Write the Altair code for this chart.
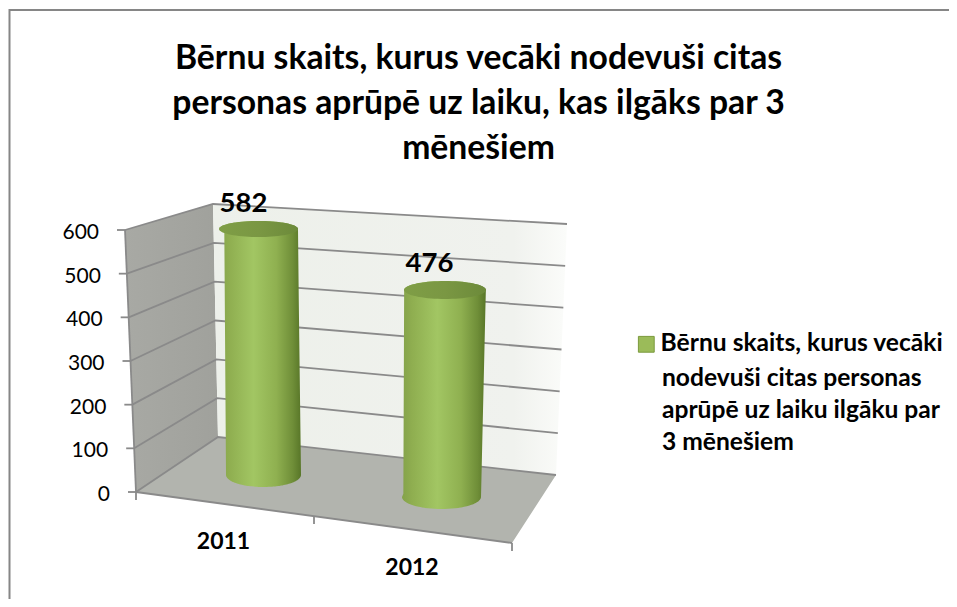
import numpy as np
import pandas as pd
import altair as alt

# ---- chart values
categories = ["2011", "2012"]
values = [582, 476]
tick_values = [0, 100, 200, 300, 400, 500, 600]
title_lines = ["Bērnu skaits, kurus vecāki nodevuši citas",
               "personas aprūpē uz laiku, kas ilgāks par 3",
               "mēnešiem"]
series_lines = ["Bērnu skaits, kurus vecāki", "nodevuši citas personas",
                "aprūpē uz laiku ilgāku par", "3 mēnešiem"]

FONT = "Lato"

# ---- projection of the 3D box (value -> picture position)
def wall_left(v):
    t = v / 600
    return 136 - 11 * t, 492 - 262 * t

def corner(v):
    t = v / 600
    return 218 - 5 * t, 437 - 233 * t

def wall_right(v):
    t = v / 600
    return 556 + 11 * t, 475 - 251 * t

# cylinders: base centre, px-per-unit, radii
cyl = {
    "2011": dict(xb=263.5, yb=475, xt=258.5, k=246 / 582, rxb=37.5, ryb=12, rxt=39.5, ryt=8),
    "2012": dict(xb=441.5, yb=497, xt=445.0, k=207 / 476, rxb=39.5, ryb=12, rxt=41.0, ryt=9),
}

x_scale = alt.Scale(domain=[8, 949], range=[0, 941], nice=False, zero=False)
y_scale = alt.Scale(domain=[8, 599], range=[0, 591], nice=False, zero=False)
X = alt.X("x:Q", scale=x_scale, axis=None)
Y = alt.Y("y:Q", scale=y_scale, axis=None)


def envelope(points):
    """Turn a convex polygon into upper/lower boundaries for an area mark."""
    pts = np.array(points, dtype=float)
    xs = np.unique(pts[:, 0])
    a, b = pts, np.roll(pts, -1, axis=0)
    rows = []
    for x in xs:
        ys = []
        for (x0, y0), (x1, y1) in zip(a, b):
            if min(x0, x1) <= x <= max(x0, x1):
                if x0 == x1:
                    ys += [y0, y1]
                else:
                    ys.append(y0 + (y1 - y0) * (x - x0) / (x1 - x0))
        rows.append(dict(x=x, y=min(ys), y2=max(ys)))
    return pd.DataFrame(rows)


def polygon(points, fill, **kw):
    return alt.Chart(envelope(points)).mark_area(
        fill=fill, orient="vertical", interpolate="linear", **kw
    ).encode(x=X, y=Y, y2="y2:Q")


def hgrad(stops, x1=0, x2=1):
    return alt.Gradient(
        gradient="linear", x1=x1, x2=x2, y1=0, y2=0,
        stops=[alt.GradientStop(offset=o, color=c) for o, c in stops],
    )


def polyline(rows, color, width):
    return alt.Chart(pd.DataFrame(rows)).mark_line(
        color=color, strokeWidth=width, interpolate="linear"
    ).encode(x=X, y=Y, detail="g:N", order="o:Q")


layers = []

# outer frame: only top and left edges are inside the picture
layers.append(polyline([dict(x=9.5, y=599, g="f", o=0), dict(x=9.5, y=10, g="f", o=1),
                        dict(x=949, y=10, g="f", o=2)], "#868686", 2))

# walls and floor
layers.append(polygon([wall_left(600), corner(600), corner(0), wall_left(0)],
                      hgrad([(0, "#a8a9a4"), (1, "#a0a19c")])))
layers.append(polygon([corner(600), wall_right(600), wall_right(0), corner(0)],
                      hgrad([(0, "#edf0ea"), (0.85, "#f0f2ee"), (1, "#fbfcfa")])))
layers.append(polygon([wall_left(0), corner(0), wall_right(0), (512, 543)], "#b2b4ae"))

# gridlines
grid_rows = []
for v in tick_values:
    for o, p in enumerate([wall_left(v), corner(v), wall_right(v)]):
        grid_rows.append(dict(x=p[0], y=p[1], g=v, o=o))
layers.append(polyline(grid_rows, "#8a8a8a", 1.8))

# axis ticks and lines
axis_rows = []
for v in tick_values:
    p = wall_left(v)
    axis_rows += [dict(x=p[0] - 8, y=p[1], g=f"t{v}", o=0), dict(x=p[0], y=p[1], g=f"t{v}", o=1)]
axis_rows += [dict(x=wall_left(600)[0], y=wall_left(600)[1], g="ya", o=0),
              dict(x=wall_left(0)[0], y=wall_left(0)[1], g="ya", o=1)]
axis_rows += [dict(x=136, y=492, g="xa", o=0), dict(x=512, y=543, g="xa", o=1)]
for i, (tx, ty) in enumerate([(136, 492), (314, 516), (512, 543)]):
    axis_rows += [dict(x=tx, y=ty, g=f"x{i}", o=0), dict(x=tx, y=ty + 8, g=f"x{i}", o=1)]
layers.append(polyline(axis_rows, "#8a8a8a", 1.8))

# cylinders
body_grad = hgrad([(0, "#84a24a"), (0.12, "#8fae50"), (0.42, "#a2c663"),
                   (0.7, "#8fb050"), (0.9, "#6f8e38"), (1, "#587628")])
top_grad = hgrad([(0, "#7f9e46"), (0.5, "#7a9743"), (1, "#6c8a3a")])
th = np.linspace(0, 2 * np.pi, 73)[:-1]
for cat, val in zip(categories, values):
    c = cyl[cat]
    ytop = c["yb"] - val * c["k"]
    bottom = [(c["xb"] + c["rxb"] * np.cos(t), c["yb"] + c["ryb"] * np.sin(t)) for t in th if np.sin(t) >= 0]
    top = [(c["xt"] + c["rxt"] * np.cos(t), ytop + c["ryt"] * np.sin(t)) for t in th if np.sin(t) <= 0]
    layers.append(polygon(bottom + top, body_grad))
    ell = [(c["xt"] + c["rxt"] * np.cos(t), ytop + c["ryt"] * np.sin(t)) for t in th]
    layers.append(polygon(ell, top_grad))

# texts
def text(rows, size, weight="normal", align="center"):
    return alt.Chart(pd.DataFrame(rows)).mark_text(
        font=FONT, fontSize=size, fontWeight=weight, align=align, baseline="middle", color="#000000"
    ).encode(x=X, y=Y, text="t:N")

layers.append(text([dict(x=wall_left(v)[0] - 26, y=wall_left(v)[1] + 3, t=str(v)) for v in tick_values], 21, align="right"))
layers.append(text([dict(x=223.5, y=542, t=categories[0]), dict(x=412, y=568, t=categories[1])], 23, "bold"))
layers.append(text([dict(x=243.5, y=204, t=str(values[0])), dict(x=429.5, y=264, t=str(values[1]))], 27.5, "bold"))
layers.append(text([dict(x=662, y=347 + 32 * i, t=s) for i, s in enumerate(series_lines)][1:], 24.6, "bold", align="left"))

# legend driven by an invisible series layer
legend = alt.Legend(
    orient="none", legendX=626, legendY=324, title=None,
    labelFont=FONT, labelFontSize=24.6, labelFontWeight="bold", labelColor="#000000",
    labelLimit=400, labelOffset=2,
    symbolType="square", symbolSize=250, symbolOpacity=1,
    symbolStrokeColor="#7b9a3d", symbolStrokeWidth=1,
)
layers.append(
    alt.Chart(pd.DataFrame([dict(series=series_lines[0], x=-100, y=-100)])).mark_square(size=0, opacity=0, clip=True).encode(
        x=X, y=Y, color=alt.Color("series:N", scale=alt.Scale(range=["#9bbb59"]), legend=legend)
    )
)

chart = alt.layer(*layers).properties(
    width=941, height=591, padding=0,
    autosize=alt.AutoSizeParams(type="none"),
    title=alt.TitleParams(text=title_lines, font=FONT, fontSize=33.7, fontWeight="bold", color="#000000",
                          anchor="middle", frame="group", lineHeight=45, offset=-159.5, baseline="top"),
    background="#ffffff",
).configure_view(stroke=None)

chart.save("out.html", embed_options={"renderer": "svg", "actions": False})
